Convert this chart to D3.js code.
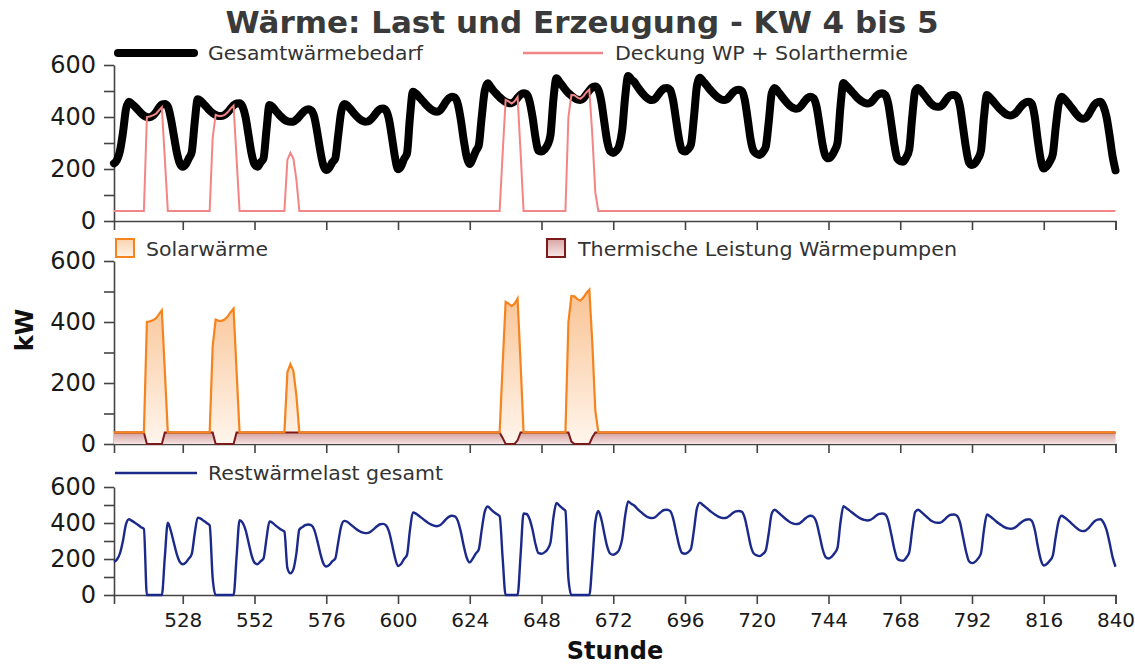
<!DOCTYPE html>
<meta charset="utf-8">
<script src="https://d3js.org/d3.v7.min.js"></script>
<style>
  body { margin: 0; background: #fff; }
  text { font-family: "DejaVu Sans", sans-serif; }
</style>
<div id="chart"></div>
<script>

// hourly values, first entry = hour 505, last = hour 840
var firstHour = 505;

// Gesamtwärmebedarf (kW)
var demand = [
  222,235,270,340,430,459,450,440,428,415,405,400,399,405,418,435,448,450,440,395,330,265,222,
  209,218,240,265,380,468,462,450,438,425,415,408,404,404,408,418,432,445,452,453,440,400,330,260,
  218,209,225,240,350,446,440,425,412,400,390,384,382,382,390,402,415,426,430,425,400,340,270,215,
  196,205,225,240,330,420,450,445,432,418,405,394,386,382,383,392,405,420,431,433,425,390,320,245,
  199,210,238,260,400,497,490,478,465,452,440,430,423,420,425,440,458,472,478,475,450,390,310,245,
  219,240,268,290,400,500,530,515,500,488,476,466,458,454,453,460,474,486,491,488,460,400,320,270,
  267,275,292,330,470,549,535,520,505,492,482,473,467,465,472,487,502,514,517,505,460,380,305,268,
  262,270,290,350,480,558,545,535,518,502,488,476,468,465,470,485,500,510,512,505,465,390,315,272,
  267,275,295,400,520,551,538,525,510,497,485,475,468,465,468,480,494,503,505,500,465,390,310,268,
  258,254,265,285,380,490,512,500,485,470,456,444,436,432,434,445,460,473,478,472,440,370,295,250,
  241,250,270,300,440,531,520,508,495,482,470,461,455,452,455,466,480,489,491,485,450,375,295,240,
  230,228,245,275,400,500,512,500,485,470,455,445,440,439,445,460,476,484,485,478,440,360,280,225,
  215,222,240,270,400,485,475,462,448,435,424,414,408,406,410,420,435,448,456,459,450,400,310,235,
  202,210,228,255,360,450,478,468,455,440,425,410,398,393,396,410,430,448,457,459,440,400,330,250,
  195
];

// Deckung WP + Solarthermie (kW)
var coverage = [
  38,38,38,38,38,38,38,38,38,38,38,400,402,406,412,425,438,240,38,38,38,38,38,
  38,38,38,38,38,38,38,38,38,38,320,408,404,404,408,418,432,444,240,38,38,38,38,38,
  38,38,38,38,38,38,38,38,38,38,38,235,262,240,160,38,38,38,38,38,38,38,38,38,
  38,38,38,38,38,38,38,38,38,38,38,38,38,38,38,38,38,38,38,38,38,38,38,38,
  38,38,38,38,38,38,38,38,38,38,38,38,38,38,38,38,38,38,38,38,38,38,38,38,
  38,38,38,38,38,38,38,38,38,38,38,260,466,460,452,460,477,265,38,38,38,38,38,38,
  38,38,38,38,38,38,38,38,38,400,485,484,475,470,480,495,506,330,110,38,38,38,38,38,
  38,38,38,38,38,38,38,38,38,38,38,38,38,38,38,38,38,38,38,38,38,38,38,38,
  38,38,38,38,38,38,38,38,38,38,38,38,38,38,38,38,38,38,38,38,38,38,38,38,
  38,38,38,38,38,38,38,38,38,38,38,38,38,38,38,38,38,38,38,38,38,38,38,38,
  38,38,38,38,38,38,38,38,38,38,38,38,38,38,38,38,38,38,38,38,38,38,38,38,
  38,38,38,38,38,38,38,38,38,38,38,38,38,38,38,38,38,38,38,38,38,38,38,38,
  38,38,38,38,38,38,38,38,38,38,38,38,38,38,38,38,38,38,38,38,38,38,38,38,
  38,38,38,38,38,38,38,38,38,38,38,38,38,38,38,38,38,38,38,38,38,38,38,38,
  38
];

// Thermische Leistung Wärmepumpen (kW)
var heatPump = [
  38,38,38,38,38,38,38,38,38,38,38,0,0,0,0,0,0,38,38,38,38,38,38,
  38,38,38,38,38,38,38,38,38,38,38,0,0,0,0,0,0,0,38,38,38,38,38,38,
  38,38,38,38,38,38,38,38,38,38,38,38,38,38,38,38,38,38,38,38,38,38,38,38,
  38,38,38,38,38,38,38,38,38,38,38,38,38,38,38,38,38,38,38,38,38,38,38,38,
  38,38,38,38,38,38,38,38,38,38,38,38,38,38,38,38,38,38,38,38,38,38,38,38,
  38,38,38,38,38,38,38,38,38,38,38,20,0,0,0,0,12,38,38,38,38,38,38,38,
  38,38,38,38,38,38,38,38,38,38,8,0,0,0,0,0,0,22,38,38,38,38,38,38,
  38,38,38,38,38,38,38,38,38,38,38,38,38,38,38,38,38,38,38,38,38,38,38,38,
  38,38,38,38,38,38,38,38,38,38,38,38,38,38,38,38,38,38,38,38,38,38,38,38,
  38,38,38,38,38,38,38,38,38,38,38,38,38,38,38,38,38,38,38,38,38,38,38,38,
  38,38,38,38,38,38,38,38,38,38,38,38,38,38,38,38,38,38,38,38,38,38,38,38,
  38,38,38,38,38,38,38,38,38,38,38,38,38,38,38,38,38,38,38,38,38,38,38,38,
  38,38,38,38,38,38,38,38,38,38,38,38,38,38,38,38,38,38,38,38,38,38,38,38,
  38,38,38,38,38,38,38,38,38,38,38,38,38,38,38,38,38,38,38,38,38,38,38,38,
  38
];

// Restwärmelast gesamt (kW)
var residual = [
  184,197,232,302,392,421,412,402,390,377,367,0,0,0,0,0,0,210,402,357,292,227,184,
  171,180,202,227,342,430,424,412,400,387,95,0,0,0,0,0,0,0,212,415,402,362,292,222,
  180,171,187,202,312,408,402,387,374,362,352,149,120,142,230,364,377,388,392,387,362,302,232,177,
  158,167,187,202,292,382,412,407,394,380,367,356,348,344,345,354,367,382,393,395,387,352,282,207,
  161,172,200,222,362,459,452,440,427,414,402,392,385,382,387,402,420,434,440,437,412,352,272,207,
  181,202,230,252,362,462,492,477,462,450,438,206,0,0,0,0,0,221,453,450,422,362,282,232,
  229,237,254,292,432,511,497,482,467,92,0,0,0,0,0,0,0,184,407,467,422,342,267,230,
  224,232,252,312,442,520,507,497,480,464,450,438,430,427,432,447,462,472,474,467,427,352,277,234,
  229,237,257,362,482,513,500,487,472,459,447,437,430,427,430,442,456,465,467,462,427,352,272,230,
  220,216,227,247,342,452,474,462,447,432,418,406,398,394,396,407,422,435,440,434,402,332,257,212,
  203,212,232,262,402,493,482,470,457,444,432,423,417,414,417,428,442,451,453,447,412,337,257,202,
  192,190,207,237,362,462,474,462,447,432,417,407,402,401,407,422,438,446,447,440,402,322,242,187,
  177,184,202,232,362,447,437,424,410,397,386,376,370,368,372,382,397,410,418,421,412,362,272,197,
  164,172,190,217,322,412,440,430,417,402,387,372,360,355,358,372,392,410,419,421,402,362,292,212,
  157
];

var xTicks = [528, 552, 576, 600, 624, 648, 672, 696, 720, 744, 768, 792, 816, 840];
var yTicks = [0, 100, 200, 300, 400, 500, 600];

var rows = demand.map(function(v, i) {
  return { h: firstHour + i, demand: v, coverage: coverage[i], wp: heatPump[i], rest: residual[i] };
});

var width = 1135, height = 668;
var svg = d3.select("#chart").append("svg")
    .attr("width", width)
    .attr("height", height);

var defs = svg.append("defs");
function grad(id, c0, c1) {
  var g = defs.append("linearGradient").attr("id", id)
      .attr("x1", 0).attr("y1", 0).attr("x2", 0).attr("y2", 1);
  g.append("stop").attr("offset", 0).attr("stop-color", c0);
  g.append("stop").attr("offset", 1).attr("stop-color", c1);
}
grad("solarGrad", "#f9c393", "#fff5ec");
grad("wpGrad", "#d3a09e", "#f5e3e2");
grad("solarKey", "#fbd3ad", "#fff3e8");
grad("wpKey", "#d8a5a4", "#f8e8e8");

var x = d3.scaleLinear().domain([505, 840]).range([114, 1115.5]);
var y1 = d3.scaleLinear().domain([0, 600]).range([221, 65]);
var y2 = d3.scaleLinear().domain([0, 600]).range([444, 261]);
var y3 = d3.scaleLinear().domain([0, 600]).range([595, 487]);

function drawAxes(y, withLabels) {
  var gx = svg.append("g")
      .attr("transform", "translate(0," + y.range()[0] + ")")
      .call(d3.axisBottom(x).tickValues(xTicks).tickSize(9).tickSizeOuter(9).tickPadding(9)
        .tickFormat(withLabels ? d3.format("d") : function() { return ""; }));
  gx.selectAll("text").style("font-size", "20px").attr("fill", "#1a1a1a");

  var gy = svg.append("g")
      .attr("transform", "translate(114,0)")
      .call(d3.axisLeft(y).tickValues(yTicks).tickSize(10).tickSizeOuter(0).tickPadding(8)
        .tickFormat(function(d) { return d % 200 === 0 ? d : ""; }));
  gy.selectAll("text").style("font-size", "24px").attr("fill", "#1a1a1a");

  [gx, gy].forEach(function(g) {
    g.select(".domain").attr("stroke", "#444").attr("stroke-width", 1.6);
    g.selectAll(".tick line").attr("stroke", "#444").attr("stroke-width", 1.6);
  });
}

// ---- panel 1: load and coverage
drawAxes(y1, false);

svg.append("path")
  .datum(rows)
  .attr("fill", "none")
  .attr("stroke", "#000")
  .attr("stroke-width", 8)
  .attr("stroke-linejoin", "round")
  .attr("stroke-linecap", "round")
  .attr("d", d3.line().curve(d3.curveMonotoneX)
    .x(function(d) { return x(d.h); }).y(function(d) { return y1(d.demand); }));

svg.append("path")
  .datum(rows)
  .attr("fill", "none")
  .attr("stroke", "#f28585")
  .attr("stroke-width", 2)
  .attr("d", d3.line().x(function(d) { return x(d.h); }).y(function(d) { return y1(d.coverage); }));

// ---- panel 2: solar + heat pump areas
drawAxes(y2, false);

svg.append("path")
  .datum(rows)
  .attr("fill", "url(#solarGrad)")
  .attr("d", d3.area().x(function(d) { return x(d.h); }).y0(y2(0)).y1(function(d) { return y2(d.coverage); }));

svg.append("path")
  .datum(rows)
  .attr("fill", "url(#wpGrad)")
  .attr("d", d3.area().x(function(d) { return x(d.h); }).y0(y2(0)).y1(function(d) { return y2(d.wp); }));

svg.append("path")
  .datum(rows)
  .attr("fill", "none")
  .attr("stroke", "#7a1a1a")
  .attr("stroke-width", 2)
  .attr("d", d3.line().x(function(d) { return x(d.h); }).y(function(d) { return y2(d.wp); }));

svg.append("path")
  .datum(rows)
  .attr("fill", "none")
  .attr("stroke", "#f5841f")
  .attr("stroke-width", 2.2)
  .attr("d", d3.line().x(function(d) { return x(d.h); }).y(function(d) { return y2(d.coverage); }));

// ---- panel 3: residual load
drawAxes(y3, true);

svg.append("path")
  .datum(rows)
  .attr("fill", "none")
  .attr("stroke", "#1b2a8a")
  .attr("stroke-width", 2.4)
  .attr("stroke-linejoin", "round")
  .attr("d", d3.line().curve(d3.curveMonotoneX)
    .x(function(d) { return x(d.h); }).y(function(d) { return y3(d.rest); }));

// ---- legends
function legendText(tx, ty, label, len) {
  svg.append("text")
    .attr("x", tx).attr("y", ty)
    .attr("textLength", len).attr("lengthAdjust", "spacingAndGlyphs")
    .style("font-size", "20px").attr("fill", "#333")
    .text(label);
}
svg.append("line").attr("x1", 118).attr("x2", 194).attr("y1", 53).attr("y2", 53)
  .attr("stroke", "#000").attr("stroke-width", 8).attr("stroke-linecap", "round");
legendText(208, 60, "Gesamtwärmebedarf", 215);
svg.append("line").attr("x1", 523).attr("x2", 603).attr("y1", 53).attr("y2", 53)
  .attr("stroke", "#f28585").attr("stroke-width", 2.5);
legendText(615, 60, "Deckung WP + Solarthermie", 293);

svg.append("rect").attr("x", 116).attr("y", 239).attr("width", 18).attr("height", 18)
  .attr("fill", "url(#solarKey)").attr("stroke", "#f5841f").attr("stroke-width", 2);
legendText(146, 256, "Solarwärme", 122);
svg.append("rect").attr("x", 547).attr("y", 239).attr("width", 18).attr("height", 18)
  .attr("fill", "url(#wpKey)").attr("stroke", "#7a1a1a").attr("stroke-width", 2);
legendText(578, 256, "Thermische Leistung Wärmepumpen", 379);

svg.append("line").attr("x1", 115).attr("x2", 197).attr("y1", 473).attr("y2", 473)
  .attr("stroke", "#1b2a8a").attr("stroke-width", 2.4);
legendText(208, 480, "Restwärmelast gesamt", 235);

// ---- title and axis titles
svg.append("text")
  .attr("x", 582).attr("y", 33)
  .attr("text-anchor", "middle")
  .style("font-size", "31px").style("font-weight", "bold")
  .attr("fill", "#3a3a3a")
  .text("Wärme: Last und Erzeugung - KW 4 bis 5");

svg.append("text")
  .attr("transform", "translate(33,330) rotate(-90)")
  .attr("text-anchor", "middle")
  .style("font-size", "24px").style("font-weight", "bold")
  .attr("fill", "#111")
  .text("kW");

svg.append("text")
  .attr("x", 615).attr("y", 659)
  .attr("text-anchor", "middle")
  .style("font-size", "24px").style("font-weight", "bold")
  .attr("fill", "#111")
  .text("Stunde");

</script>
